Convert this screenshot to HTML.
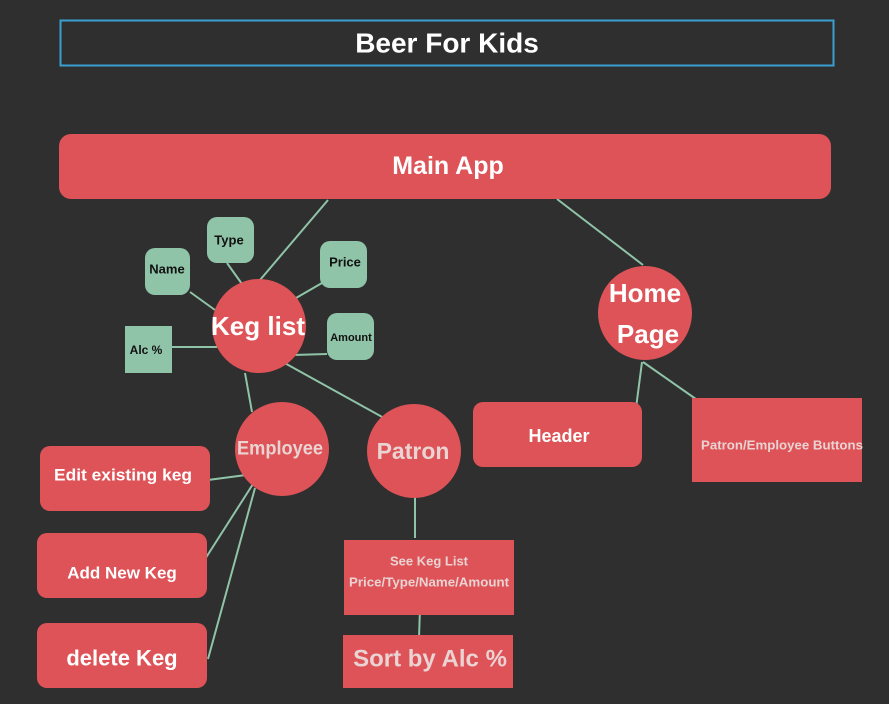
<!DOCTYPE html>
<html><head><meta charset="utf-8"><style>
html,body{margin:0;padding:0;background:#2f2f2f;width:889px;height:704px;overflow:hidden}
text{font-family:"Liberation Sans",sans-serif;font-weight:bold;text-anchor:middle;dominant-baseline:central}
</style></head><body>
<svg width="889" height="704" viewBox="0 0 889 704">
<rect x="0" y="0" width="889" height="704" fill="#2f2f2f"/>
<rect x="60.5" y="20.5" width="773" height="45" fill="none" stroke="#3a9fd0" stroke-width="2"/>
<text x="447" y="43" font-size="28" fill="#fff">Beer For Kids</text>
<g stroke="#8fc4a8" stroke-width="2" fill="none">
<line x1="328" y1="200" x2="260" y2="280"/>
<line x1="557" y1="199" x2="643" y2="265"/>
<line x1="190" y1="292" x2="215" y2="310"/>
<line x1="227" y1="263" x2="242" y2="284"/>
<line x1="322" y1="283" x2="296" y2="298"/>
<line x1="327" y1="354" x2="293" y2="355"/>
<line x1="172" y1="347" x2="217" y2="347"/>
<line x1="245" y1="373" x2="252" y2="412"/>
<line x1="281" y1="361" x2="384" y2="418"/>
<line x1="642" y1="362" x2="636" y2="408"/>
<line x1="643" y1="362" x2="703" y2="404"/>
<line x1="208" y1="480" x2="246" y2="475"/>
<line x1="200" y1="567" x2="253" y2="484"/>
<line x1="208" y1="659" x2="255" y2="488"/>
<line x1="415" y1="497" x2="415" y2="538"/>
<line x1="420" y1="608" x2="419" y2="638"/>
</g>
<g fill="#dd5357">
<rect x="59" y="134" width="772" height="65" rx="12"/>
<circle cx="259" cy="326" r="47"/>
<circle cx="645" cy="313" r="47"/>
<circle cx="282" cy="449" r="47"/>
<circle cx="414" cy="451" r="47"/>
<rect x="473" y="402" width="169" height="65" rx="10"/>
<rect x="692" y="398" width="170" height="84"/>
<rect x="40" y="446" width="170" height="65" rx="10"/>
<rect x="37" y="533" width="170" height="65" rx="10"/>
<rect x="37" y="623" width="170" height="65" rx="10"/>
<rect x="344" y="540" width="170" height="75"/>
<rect x="343" y="635" width="170" height="53"/>
</g>
<g fill="#8fc4a8">
<rect x="145" y="248" width="45" height="47" rx="10"/>
<rect x="207" y="217" width="47" height="46" rx="10"/>
<rect x="320" y="241" width="47" height="47" rx="10"/>
<rect x="327" y="313" width="47" height="47" rx="10"/>
<rect x="125" y="326" width="47" height="47"/>
</g>
<g fill="#111">
<text x="167" y="269" font-size="13">Name</text>
<text x="229" y="240" font-size="13">Type</text>
<text x="345" y="262" font-size="13">Price</text>
<text x="351" y="338" font-size="11">Amount</text>
<text x="146" y="350" font-size="12" font-weight="normal">Alc %</text>
</g>
<text x="448" y="166" font-size="25" fill="#fff">Main App</text>
<text x="258" y="326" font-size="26" fill="#fff" textLength="94" lengthAdjust="spacingAndGlyphs">Keg list</text>
<text x="645" y="293" font-size="26" fill="#fff">Home</text>
<text x="648" y="334" font-size="26" fill="#fff">Page</text>
<text x="280" y="449" font-size="19" fill="#ead3d3" textLength="86" lengthAdjust="spacingAndGlyphs">Employee</text>
<text x="413" y="451" font-size="23" fill="#ead3d3">Patron</text>
<text x="559" y="436" font-size="18" fill="#fff">Header</text>
<text x="782" y="445" font-size="13" fill="#ead3d3" textLength="162" lengthAdjust="spacingAndGlyphs">Patron/Employee Buttons</text>
<text x="123" y="475" font-size="17" fill="#fff" textLength="138" lengthAdjust="spacingAndGlyphs">Edit existing keg</text>
<text x="122" y="573" font-size="17" fill="#fff">Add New Keg</text>
<text x="122" y="658" font-size="22" fill="#fff">delete Keg</text>
<text x="429" y="561" font-size="13" fill="#ead3d3">See Keg List</text>
<text x="429" y="582" font-size="13" fill="#ead3d3" textLength="160" lengthAdjust="spacingAndGlyphs">Price/Type/Name/Amount</text>
<text x="430" y="659" font-size="24" font-weight="normal" fill="#ead3d3">Sort by Alc %</text>
</svg>
</body></html>
